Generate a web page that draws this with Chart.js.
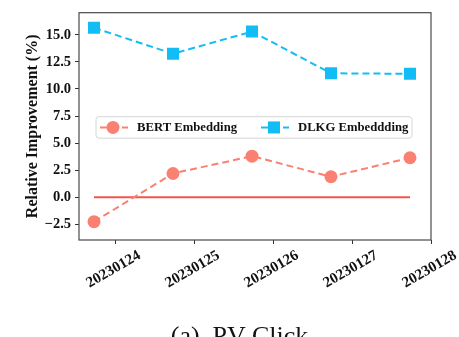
<!DOCTYPE html>
<html>
<head>
<meta charset="utf-8">
<script src="https://cdn.jsdelivr.net/npm/chart.js@4/dist/chart.umd.min.js"></script>
<style>
  html, body { margin: 0; padding: 0; background: #fff; }
  #wrap { position: relative; width: 459px; height: 337px; overflow: hidden; }
  #caption {
    position: absolute; left: 10px; width: 459px; top: 323px; line-height: 26px;
    text-align: center; white-space: pre;
    font-family: 'Liberation Serif', serif; font-size: 26px; color: #111;
  }
</style>
</head>
<body>
<div id="wrap">
  <canvas id="chart" width="459" height="337"></canvas>
  <div id="caption">(a)  PV Click</div>
</div>
<script>
  // tick labels on the x axis and the values
  const dates = ['20230124', '20230125', '20230126', '20230127', '20230128'];
  const bertValues = [-2.25, 2.2, 3.8, 1.9, 3.65];
  const dlkgValues = [15.65, 13.25, 15.3, 11.45, 11.4];
  const baseline = [0, 0, 0, 0, 0];
  const yTicks = [-2.5, 0, 2.5, 5, 7.5, 10, 12.5, 15];

  // points sit a bit to the left of each date tick
  const pointShift = 0.266;
  const toPoints = vals => vals.map((v, i) => ({ x: i + 1 - pointShift, y: v }));

  const serif = "'Liberation Serif', 'Times New Roman', serif";
  const bertColor = '#fa8072';
  const dlkgColor = '#12bdf5';

  const frame = {
    id: 'frame',
    afterDatasetsDraw(chart) {
      const { ctx, chartArea: a } = chart;
      ctx.save();
      ctx.strokeStyle = '#4a4a4a';
      ctx.lineWidth = 1.2;
      ctx.strokeRect(a.left, a.top, a.right - a.left, a.bottom - a.top);
      ctx.restore();
    }
  };

  // rotated x labels centred on their ticks, matplotlib style
  const xLabels = {
    id: 'xLabels',
    afterDraw(chart) {
      const { ctx, scales } = chart;
      const x = scales.x;
      ctx.save();
      ctx.font = 'bold 15px ' + serif;
      ctx.fillStyle = '#111';
      ctx.textAlign = 'center';
      ctx.textBaseline = 'middle';
      dates.forEach((d, i) => {
        const px = x.getPixelForValue(i + 1) - 1.5;
        ctx.save();
        ctx.translate(px, x.top + 29.5);
        ctx.rotate(-Math.PI / 6);
        ctx.fillText(d, 0, 0);
        ctx.restore();
      });
      ctx.restore();
    }
  };

  const legendBox = {
    id: 'legendBox',
    afterDraw(chart) {
      const { ctx, chartArea: a } = chart;
      const left = a.left + 17, top = a.top + 104, w = 316, h = 21.5;
      ctx.save();
      ctx.fillStyle = 'rgba(255,255,255,0.85)';
      ctx.strokeStyle = '#d6d6d6';
      ctx.lineWidth = 1;
      ctx.beginPath();
      ctx.roundRect(left, top, w, h, 3);
      ctx.fill();
      ctx.stroke();
      const cy = top + h / 2;
      const items = [
        { ds: chart.data.datasets[0], x: left + 4 },
        { ds: chart.data.datasets[1], x: left + 165 }
      ];
      items.forEach(it => {
        ctx.strokeStyle = it.ds.borderColor;
        ctx.lineWidth = 2;
        ctx.setLineDash([7, 4]);
        ctx.beginPath();
        ctx.moveTo(it.x, cy);
        ctx.lineTo(it.x + 28, cy);
        ctx.stroke();
        ctx.setLineDash([]);
        ctx.fillStyle = it.ds.pointBackgroundColor;
        Chart.helpers.drawPoint(ctx, {
          pointStyle: it.ds.pointStyle, radius: it.ds.pointRadius, borderWidth: 0
        }, it.x + 13, cy);
        ctx.fillStyle = '#111';
        ctx.font = 'bold 12.7px ' + serif;
        ctx.textAlign = 'left';
        ctx.textBaseline = 'middle';
        ctx.fillText(it.ds.label, it.x + 37, cy + 0.5);
      });
      ctx.restore();
    }
  };

  new Chart(document.getElementById('chart'), {
    type: 'line',
    data: {
      datasets: [
        {
          label: 'BERT Embedding',
          data: toPoints(bertValues),
          borderColor: bertColor,
          backgroundColor: bertColor,
          pointBackgroundColor: bertColor,
          pointBorderWidth: 0,
          borderWidth: 2,
          borderDash: [7, 4],
          pointStyle: 'circle',
          pointRadius: 6.5,
          order: 1
        },
        {
          label: 'DLKG Embeddding',
          data: toPoints(dlkgValues),
          borderColor: dlkgColor,
          backgroundColor: dlkgColor,
          pointBackgroundColor: dlkgColor,
          pointBorderWidth: 0,
          borderWidth: 2,
          borderDash: [7, 4],
          pointStyle: 'rect',
          pointRadius: 8.5,
          order: 1
        },
        {
          label: 'zero',
          data: toPoints(baseline),
          borderColor: '#f2554d',
          borderWidth: 2,
          pointRadius: 0,
          order: 2
        }
      ]
    },
    options: {
      responsive: false,
      animation: false,
      layout: { padding: { left: 0, top: 11, right: 28, bottom: 0 } },
      plugins: { legend: { display: false }, tooltip: { enabled: false } },
      scales: {
        x: {
          type: 'linear',
          min: 1 - 0.456,
          max: 5,
          afterBuildTicks: s => { s.ticks = dates.map((d, i) => ({ value: i + 1 })); },
          afterFit: s => { s.height = 97; },
          border: { display: false },
          grid: { drawOnChartArea: false, drawTicks: true, tickLength: 4, color: '#333', lineWidth: 1 },
          ticks: { display: false }
        },
        y: {
          type: 'linear',
          min: -3.94,
          max: 17.04,
          afterBuildTicks: s => { s.ticks = yTicks.map(v => ({ value: v })); },
          afterFit: s => { s.width = 79; },
          border: { display: false },
          grid: { drawOnChartArea: false, drawTicks: true, tickLength: 4, color: '#333', lineWidth: 1 },
          ticks: {
            padding: 4,
            color: '#111',
            font: { family: serif, weight: 'bold', size: 14.5 },
            callback: v => (v < 0 ? '\u2212' : '') + Math.abs(v).toFixed(1)
          },
          title: {
            display: true,
            text: 'Relative Improvement (%)',
            color: '#111',
            font: { family: serif, weight: 'bold', size: 16 },
            padding: { top: 23.5, bottom: 0 }
          }
        }
      }
    },
    plugins: [frame, xLabels, legendBox]
  });
</script>
</body>
</html>
